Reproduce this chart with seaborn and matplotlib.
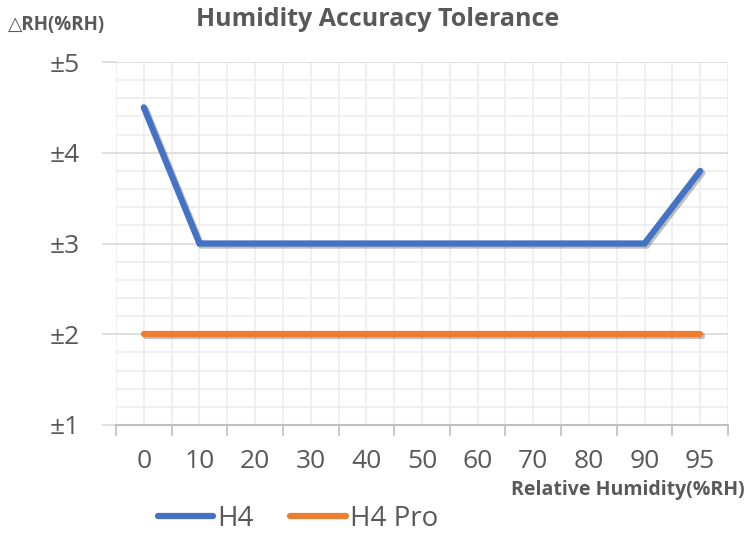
import numpy as np
import pandas as pd
import matplotlib
matplotlib.use("Agg")
import matplotlib.pyplot as plt
import matplotlib.patheffects as pe
from matplotlib.ticker import MultipleLocator, FixedLocator
import seaborn as sns

# Data
humidity = ["0", "10", "20", "30", "40", "50", "60", "70", "80", "90", "95"]
h4 = [4.5, 3, 3, 3, 3, 3, 3, 3, 3, 3, 3.8]
h4_pro = [2, 2, 2, 2, 2, 2, 2, 2, 2, 2, 2]
series_names = ["H4", "H4 Pro"]
y_ticks = [1, 2, 3, 4, 5]
y_labels = ["±1", "±2", "±3", "±4", "±5"]

sns.set_theme(style="white")
plt.rcParams['font.family'] = ['Open Sans', 'DejaVu Sans']

pos = np.arange(len(humidity))
df = pd.concat([
    pd.DataFrame({"pos": pos, "value": h4, "series": series_names[0]}),
    pd.DataFrame({"pos": pos, "value": h4_pro, "series": series_names[1]}),
])

gray = "#595959"
palette = {"H4": "#4472C4", "H4 Pro": "#ED7D31"}

fig = plt.figure(figsize=(7.5, 5.34), dpi=100)
ax = fig.add_axes([116 / 750, 1 - 425 / 534, 612 / 750, 363 / 534])

sns.lineplot(data=df, x="pos", y="value", hue="series", palette=palette,
             sort=False, linewidth=4.5, ax=ax, legend=False,
             solid_capstyle="round", solid_joinstyle="miter")
for line in ax.lines:
    line.set_path_effects([pe.SimpleLineShadow(offset=(1.5, -1.5), alpha=0.25, shadow_color="black"),
                           pe.Normal()])

ax.set_xlim(-0.5, len(humidity) - 0.5)
ax.set_ylim(1, 5)

# x axis: labels at category centers, tick marks at boundaries
ax.set_xticks(pos)
ax.set_xticklabels(humidity)
ax.xaxis.set_minor_locator(FixedLocator(np.arange(-0.5, len(humidity), 1.0)))
ax.tick_params(axis="x", which="major", length=0, pad=17, labelsize=19, labelcolor=gray)
ax.tick_params(axis="x", which="minor", length=8, width=1.2, color="#BFBFBF",
               direction="out", bottom=True)

ax.set_yticks(y_ticks)
ax.set_yticklabels(y_labels)
ax.yaxis.set_minor_locator(MultipleLocator(0.2))
ax.tick_params(axis="y", which="major", length=10, width=1.2, color="#D9D9D9",
               direction="out", left=True, pad=16, labelsize=19, labelcolor=gray)
ax.tick_params(axis="y", which="minor", length=0)

ax.grid(True, which="major", axis="y", color="#D9D9D9", lw=1.2)
ax.grid(True, which="minor", axis="y", color="#EEEEEE", lw=1.2)
ax.grid(True, which="both", axis="x", color="#EEEEEE", lw=1.2)
ax.set_axisbelow(True)

for side in ["top", "right", "left"]:
    ax.spines[side].set_visible(False)
ax.spines["bottom"].set_color("#BFBFBF")
ax.spines["bottom"].set_linewidth(1.5)

ax.set_xlabel("")
ax.set_ylabel("")

fig.text(378 / 750, 1 - 20 / 534, "Humidity Accuracy Tolerance", ha="center", va="center",
         fontsize=18, fontweight="bold", color=gray)
fig.text(8 / 750, 1 - 25 / 534, "△RH(%RH)", ha="left", va="center",
         fontsize=13.5, fontweight="bold", color=gray)
fig.text(745 / 750, 1 - 490 / 534, "Relative Humidity(%RH)", ha="right", va="center",
         fontsize=14, fontweight="bold", color=gray)

handles = [plt.Line2D([], [], color=palette[s], lw=4.5, solid_capstyle="round") for s in series_names]
leg = fig.legend(handles, series_names, loc="center", bbox_to_anchor=(298 / 750, 1 - 519 / 534),
                 ncol=2, frameon=False, fontsize=20, handlelength=2.0, handletextpad=0.15,
                 columnspacing=1.3)
for t in leg.get_texts():
    t.set_color(gray)

fig.savefig("out.png", dpi=100)
